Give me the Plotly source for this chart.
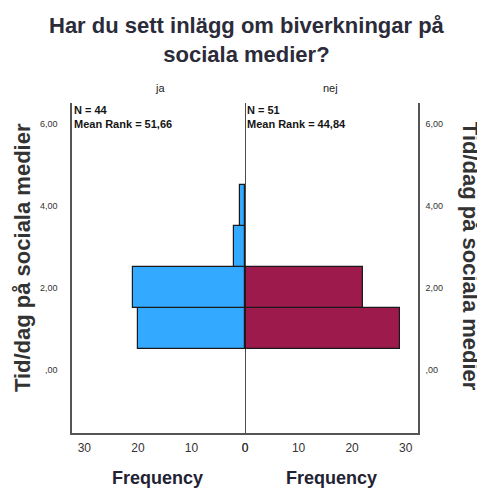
import plotly.graph_objects as go

# Data
bins = [1, 2, 3, 4]                 # Tid/dag på sociala medier (bin centres)
ja_freq = [20, 21, 2, 1]
nej_freq = [29, 22, 0, 0]
y_tickvals = [0, 2, 4, 6]
y_ticktext = [",00", "2,00", "4,00", "6,00"]
x_tickvals = [0, 10, 20, 30]
x_ticktext = ["0", "10", "20", "30"]
groups = ["ja", "nej"]
n_text = ["N = 44", "N = 51"]
rank_text = ["Mean Rank = 51,66", "Mean Rank = 44,84"]

BLUE = "#33AAFF"
MAROON = "#9C1A4C"
XMAX = 32.3
YR = [-1.55, 6.5]
FONT = "Arial, Liberation Sans, sans-serif"
ytickfont = dict(family=FONT, size=9, color="#333333")
xtickfont = dict(family=FONT, size=12, color="#333333")

fig = go.Figure()
fig.add_trace(go.Bar(x=ja_freq, y=bins, orientation="h", width=1.0,
                     marker=dict(color=BLUE, line=dict(color="#1a1a1a", width=1.2)),
                     xaxis="x", yaxis="y", showlegend=False))
fig.add_trace(go.Bar(x=nej_freq, y=bins, orientation="h", width=1.0,
                     marker=dict(color=MAROON, line=dict(color="#1a1a1a", width=1.2)),
                     xaxis="x2", yaxis="y2", showlegend=False))

axcommon = dict(showgrid=False, zeroline=False, ticks="", tickfont=xtickfont,
                tickvals=x_tickvals, ticktext=x_ticktext, showline=True,
                linecolor="#555555", linewidth=1.5, fixedrange=True,
                automargin=False, ticklabelstandoff=3)
fig.update_layout(
    width=477, height=480,
    margin=dict(l=64, r=67, t=95, b=55, autoexpand=False),
    paper_bgcolor="white", plot_bgcolor="white",
    bargap=0,
    xaxis=dict(domain=[0, 0.5], range=[XMAX, 0], anchor="y", **axcommon),
    xaxis2=dict(domain=[0.5, 1], range=[0, XMAX], anchor="y2", **axcommon),
    yaxis=dict(range=YR, anchor="x", side="left", showgrid=False, zeroline=False,
               tickvals=y_tickvals, ticktext=y_ticktext, tickfont=ytickfont, ticks="",
               showline=True, linecolor="#555555", linewidth=1.5, automargin=False,
               ticklabelstandoff=11, fixedrange=True),
    yaxis2=dict(range=YR, anchor="x2", side="right", showgrid=False, zeroline=False,
                tickvals=y_tickvals, ticktext=y_ticktext, tickfont=ytickfont, ticks="",
                showline=True, linecolor="#555555", linewidth=1.5, matches="y",
                automargin=False, ticklabelstandoff=4, fixedrange=True),
)

# centre line
fig.add_shape(type="line", xref="x2", yref="y2", x0=0, x1=0, y0=YR[0], y1=YR[1],
              line=dict(color="#111111", width=1.5))

title_font = dict(family=FONT, size=22, color="#2b2b3a", weight="bold")
fig.add_annotation(text="Har du sett inlägg om biverkningar på<br>sociala medier?",
                   xref="paper", yref="paper", x=0.506, y=1.19,
                   xanchor="center", yanchor="middle", align="center",
                   showarrow=False, font=title_font)

grp_font = dict(family=FONT, size=11, color="#222222")
fig.add_annotation(text=groups[0], xref="paper", yref="paper", x=0.254, y=1.045,
                   xanchor="center", yanchor="middle", showarrow=False, font=grp_font)
fig.add_annotation(text=groups[1], xref="paper", yref="paper", x=0.746, y=1.045,
                   xanchor="center", yanchor="middle", showarrow=False, font=grp_font)

ann_font = dict(family=FONT, size=11, color="#151515", weight="bold")
for i, x0 in enumerate([0.0, 0.5]):
    fig.add_annotation(text=n_text[i] + "<br>" + rank_text[i], xref="paper", yref="paper",
                       x=x0, y=0.958, xanchor="left", yanchor="middle", align="left",
                       showarrow=False, font=ann_font)

ytitle_font = dict(family=FONT, size=22, color="#333333", weight="bold")
fig.add_annotation(text="Tid/dag på sociala medier", xref="paper", yref="paper",
                   x=-0.1445, y=0.53, xanchor="center", yanchor="middle",
                   textangle=-90, showarrow=False, font=ytitle_font)
fig.add_annotation(text="Tid/dag på sociala medier", xref="paper", yref="paper",
                   x=1.154, y=0.536, xanchor="center", yanchor="middle",
                   textangle=90, showarrow=False, font=ytitle_font)

freq_font = dict(family=FONT, size=18, color="#222233", weight="bold")
fig.add_annotation(text="Frequency", xref="paper", yref="paper", x=0.246, y=-0.136,
                   xanchor="center", yanchor="middle", showarrow=False, font=freq_font)
fig.add_annotation(text="Frequency", xref="paper", yref="paper", x=0.749, y=-0.136,
                   xanchor="center", yanchor="middle", showarrow=False, font=freq_font)

fig.write_html("out.html")
